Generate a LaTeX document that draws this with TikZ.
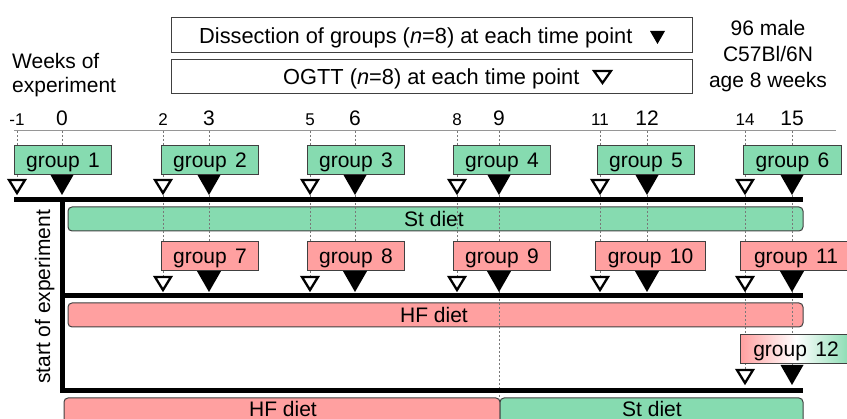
\documentclass[tikz,border=0pt]{standalone}
\usepackage{fontspec}
\setmainfont{Liberation Sans}
\definecolor{stg}{RGB}{134,219,176}
\definecolor{hfr}{RGB}{255,160,160}
\definecolor{bord}{RGB}{64,64,64}
\definecolor{guide}{RGB}{120,120,120}
\definecolor{axisc}{RGB}{150,150,150}
\newcommand\filltri[3]{\path[ftri] (#1-#3*0.575,#2-#3) -- (#1+#3*0.575,#2-#3) -- (#1,#2) -- cycle;}
\newcommand\opentri[2]{\path[otri] (#1-8,#2-13) -- (#1+8,#2-13) -- (#1,#2) -- cycle;}
\begin{document}
\begin{tikzpicture}[x=1pt,y=-1pt,
  every node/.style={font=\fontsize{21}{25}\selectfont, inner sep=0pt},
  grp/.style={draw=bord, line width=1pt, minimum height=29pt, anchor=north west, text height=15pt, text depth=0pt},
  grpg/.style={grp, fill=stg},
  grpr/.style={grp, fill=hfr},
  diet/.style={draw=bord, line width=1pt, rounded corners=4pt},
  topbox/.style={draw=bord, line width=1.2pt, anchor=north west},
  tline/.style={line width=5pt},
  guideline/.style={draw=guide, line width=0.6pt, dash pattern=on 2pt off 2pt},
  ftri/.style={fill=black},
  otri/.style={draw=black, fill=white, line width=2.3pt, line join=miter},
  wk/.style={anchor=base},
  wks/.style={anchor=base, font=\fontsize{17}{20}\selectfont},
  toptext/.style={anchor=base west, font=\fontsize{21.8}{26}\selectfont},
]
\useasboundingbox (0,0) rectangle (847,419);
\clip (0,0) rectangle (847,419);

% ---------- header ----------
\node[topbox, minimum width=521pt, minimum height=35pt] (dis) at (171,17) {};
\node[toptext] (dist) at (199,44) {Dissection of groups (\textit{n}=8) at each time point};
\path[ftri] (650,31) -- (665,31) -- (657.5,44) -- cycle;
\node[topbox, minimum width=521pt, minimum height=34pt] (ogtt) at (171,59) {};
\node[toptext] (ogttt) at (283,84.5) {OGTT (\textit{n}=8) at each time point};
\path[otri, line width=2.2pt] (594,71) -- (611,71) -- (602.5,83) -- cycle;

\node[anchor=base] (m1) at (768,36) {96 male};
\node[anchor=base] (m2) at (768,62) {C57Bl/6N};
\node[anchor=base] (m3) at (768,87.5) {age 8 weeks};

\node[anchor=base west] (we1) at (12,69) {Weeks of};
\node[anchor=base west] (we2) at (12,93) {experiment};

\node[rotate=90, anchor=base] (start) at (50,297) {start of experiment};

% ---------- axis ----------
\draw[axisc, line width=0.8pt] (14,130) coordinate (axL) -- (836,130) coordinate (axR);
\foreach \x/\l in {17/-1, 163/2, 310/5, 457/8, 600/11, 745/14}
  \node[wks] (n\l) at (\x,125.5) {\l};
\foreach \x/\l in {62/0, 209/3, 355/6, 499/9, 647/12, 792/15}
  \node[wk] (n\l) at (\x,126) {\l};

% ---------- diet bars ----------
\path[diet, fill=stg] (68,207) rectangle (803,231);
\node[anchor=base] (st1) at (434,227) {St diet};
\path[diet, fill=hfr] (68,303) rectangle (803,327);
\node[anchor=base] (hf1) at (434,323) {HF diet};
\path[diet, fill=hfr] (64,398) rectangle (500,440);
\path[diet, fill=stg] (500,398) rectangle (803,440);
\node[anchor=base] (hf2) at (283,416.5) {HF diet};
\node[anchor=base] (st2) at (652,416.5) {St diet};

% ---------- guide lines ----------
\draw[guideline] (17,131) -- (17,180);
\draw[guideline] (62,131) -- (62,175);
\foreach \x/\e in {163/277, 209/271, 310/277, 355/271, 457/277, 600/277, 647/271}
  \draw[guideline] (\x,131) -- (\x,\e);
\draw[guideline] (499,131) -- (499,398);
\draw[guideline] (745,131) -- (745,370);
\draw[guideline] (792,131) -- (792,365);

% ---------- thick lines ----------
\draw[tline] (14,200) -- (803,200);
\draw[tline] (62,200) -- (62,391) -- (803,391);
\draw[tline] (62,296) -- (803,296);

% ---------- groups ----------
\node[grpg, minimum width=97pt] (g1) at (14,145) {group\hspace{0.4em}1};
\node[grpg, minimum width=97pt] (g2) at (161,145) {group\hspace{0.4em}2};
\node[grpg, minimum width=97pt] (g3) at (307,145) {group\hspace{0.4em}3};
\node[grpg, minimum width=97pt] (g4) at (453,145) {group\hspace{0.4em}4};
\node[grpg, minimum width=97pt] (g5) at (597,145) {group\hspace{0.4em}5};
\node[grpg, minimum width=98pt] (g6) at (743,145) {group\hspace{0.4em}6};

\node[grpr, minimum width=97pt] (g7) at (161,241) {group\hspace{0.4em}7};
\node[grpr, minimum width=97pt] (g8) at (307,241) {group\hspace{0.4em}8};
\node[grpr, minimum width=97pt] (g9) at (453,241) {group\hspace{0.4em}9};
\node[grpr, minimum width=110pt] (g10) at (595,241) {group\hspace{0.4em}10};
\node[grpr, minimum width=111pt] (g11) at (740,241) {group\hspace{0.4em}11};

\node[grp, left color=hfr, right color=stg, middle color=white, minimum width=111pt] (g12) at (740,334) {group\hspace{0.4em}12};

% ---------- triangles ----------
\foreach \x in {17,163,310,457,600,745} {\opentri{\x}{193}}
\foreach \x in {62,209,355,499,647,792} {\filltri{\x}{195}{20}}
\foreach \x in {163,310,457,600,745} {\opentri{\x}{290}}
\foreach \x in {209,355,499,647,792} {\filltri{\x}{292}{21}}
\opentri{745}{383}
\filltri{792}{385}{20}
\end{tikzpicture}
\end{document}
